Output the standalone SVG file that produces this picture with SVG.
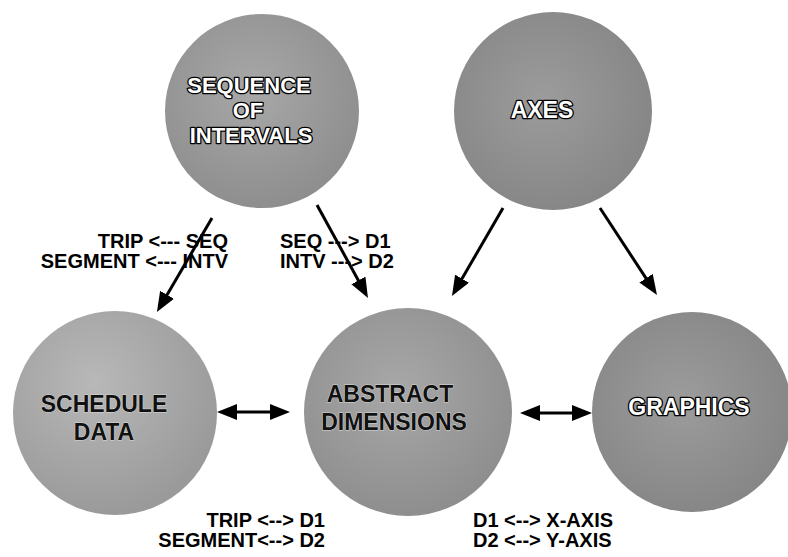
<svg xmlns="http://www.w3.org/2000/svg" width="788" height="557" viewBox="0 0 788 557">
<style>
.node{stroke:none}
.lt{font-family:"Liberation Sans",Arial,sans-serif;font-weight:bold;font-size:23px;text-anchor:middle;fill:#ffffff;stroke:#000000;stroke-width:2.6px;paint-order:stroke;stroke-linejoin:round}
.sm{font-size:22px}
.dk{font-family:"Liberation Sans",Arial,sans-serif;font-weight:bold;font-size:23px;text-anchor:middle;fill:#111111;stroke:#d8d8d8;stroke-width:1px;paint-order:stroke}
.lab{font-family:"Liberation Sans",Arial,sans-serif;font-weight:bold;font-size:20px;fill:#000000}
.r{text-anchor:end}
.c{fill:none;stroke:#000000;stroke-width:3}
</style>
<defs>
<radialGradient id="g1" cx="45%" cy="40%" r="65%">
<stop offset="0" stop-color="#a8a8a8"/>
<stop offset="1" stop-color="#8c8c8c"/>
</radialGradient>
<radialGradient id="g2" cx="40%" cy="35%" r="65%">
<stop offset="0" stop-color="#b8b8b8"/>
<stop offset="1" stop-color="#9a9a9a"/>
</radialGradient>
<radialGradient id="g3" cx="45%" cy="45%" r="65%">
<stop offset="0" stop-color="#9c9c9c"/>
<stop offset="1" stop-color="#838383"/>
</radialGradient>
<marker id="ah" markerUnits="userSpaceOnUse" markerWidth="20" markerHeight="16" refX="10" refY="8" orient="auto-start-reverse">
<path d="M0,0 L20,8 L0,16 z" fill="#000000"/>
</marker>
</defs>
<rect width="788" height="557" fill="#ffffff"/>
<g id="seq">
<circle class="node" cx="262" cy="111" r="97" fill="url(#g1)"/>
<text class="lt sm" x="249" y="93">SEQUENCE</text>
<text class="lt sm" x="248" y="118">OF</text>
<text class="lt sm" x="251" y="143">INTERVALS</text>
</g>
<g id="axes">
<circle class="node" cx="553" cy="111" r="99" fill="url(#g3)"/>
<text class="lt" x="542" y="118">AXES</text>
</g>
<g id="schedule">
<circle class="node" cx="115" cy="413" r="102" fill="url(#g2)"/>
<text class="dk" x="104" y="412">SCHEDULE</text>
<text class="dk" x="104" y="440">DATA</text>
</g>
<g id="abstract">
<circle class="node" cx="408" cy="412" r="104" fill="url(#g1)"/>
<text class="dk" x="390" y="402">ABSTRACT</text>
<text class="dk" x="394" y="430">DIMENSIONS</text>
</g>
<g id="graphics">
<circle class="node" cx="692" cy="412" r="100" fill="url(#g3)"/>
<text class="lt" x="689" y="415">GRAPHICS</text>
</g>
<g id="connectors">
<line class="c" x1="212" y1="218" x2="162" y2="303.4" marker-end="url(#ah)"/>
<line class="c" x1="317" y1="205" x2="363.2" y2="289.2" marker-end="url(#ah)"/>
<line class="c" x1="503" y1="208" x2="457" y2="287.3" marker-end="url(#ah)"/>
<line class="c" x1="600" y1="208" x2="651.5" y2="286.6" marker-end="url(#ah)"/>
<line class="c" x1="227" y1="412" x2="280" y2="412" marker-start="url(#ah)" marker-end="url(#ah)"/>
<line class="c" x1="530" y1="413" x2="582" y2="413" marker-start="url(#ah)" marker-end="url(#ah)"/>
</g>
<g id="labels" xml:space="preserve">
<text class="lab r" x="228" y="248">TRIP &lt;--- SEQ</text>
<text class="lab r" x="228" y="268">SEGMENT &lt;--- INTV</text>
<text class="lab" x="280" y="248">SEQ  ---&gt; D1</text>
<text class="lab" x="280" y="268">INTV ---&gt; D2</text>
<text class="lab r" x="325" y="527">TRIP &lt;--&gt; D1</text>
<text class="lab r" x="325" y="547">SEGMENT&lt;--&gt; D2</text>
<text class="lab" x="473" y="527">D1 &lt;--&gt; X-AXIS</text>
<text class="lab" x="473" y="547">D2 &lt;--&gt; Y-AXIS</text>
</g>
</svg>
